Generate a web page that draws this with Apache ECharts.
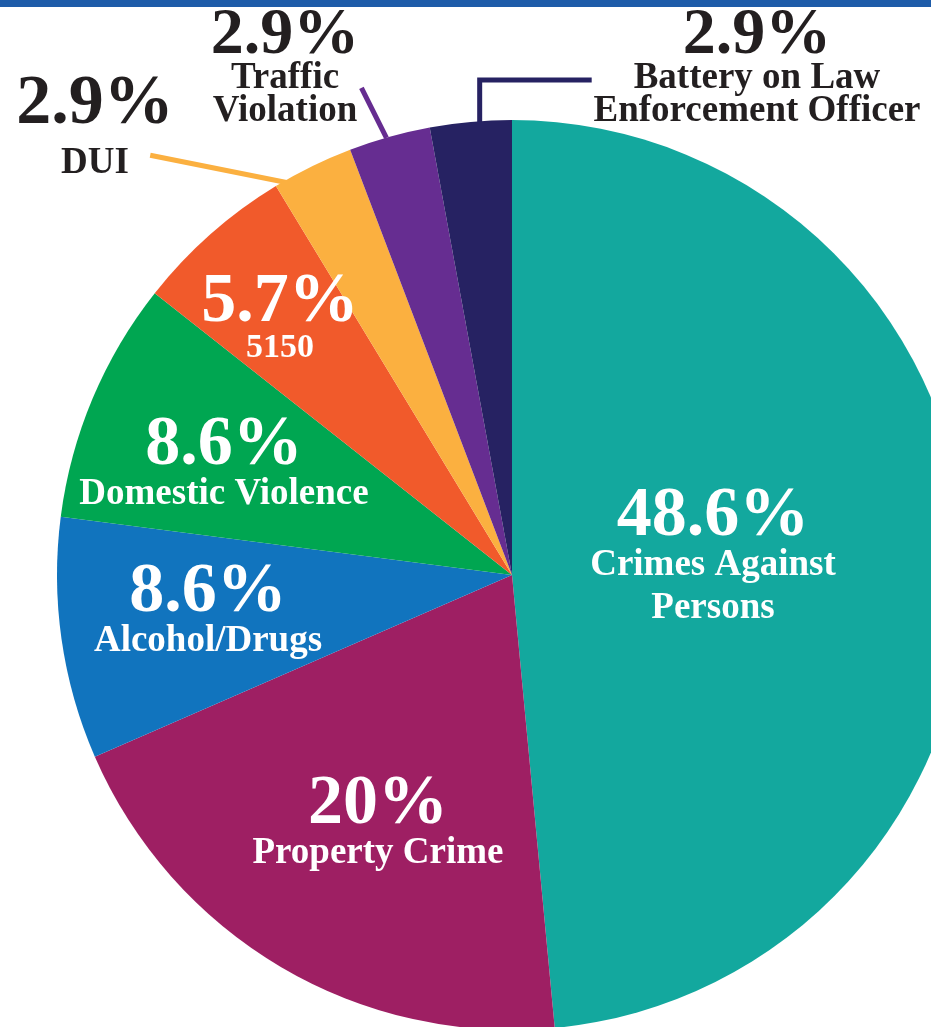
<!DOCTYPE html>
<html>
<head>
<meta charset="utf-8">
<script src="https://cdn.jsdelivr.net/npm/echarts@6/dist/echarts.min.js"></script>
<style>
  html, body { margin: 0; padding: 0; background: #fff; }
  #main { width: 931px; height: 1027px; }
</style>
</head>
<body>
<div id="main"></div>
<script>
// categories, clockwise from 12 o'clock ('\n' = line break in the label)
var categories = [
    'Crimes Against\nPersons',
    'Property Crime',
    'Alcohol/Drugs',
    'Domestic Violence',
    '5150',
    'DUI',
    'Traffic\nViolation',
    'Battery on Law\nEnforcement Officer'
];
var percents = [48.6, 20, 8.6, 8.6, 5.7, 2.9, 2.9, 2.9];
var colors = ['#13a89e', '#9e1f63', '#1174be', '#00a651', '#f15a2b', '#fbb040', '#662d91', '#262262'];
var outsideNames = ['DUI', 'Traffic\nViolation', 'Battery on Law\nEnforcement Officer'];

// label centres (px), rich style keys, and leader line bends (offsets from the slice edge anchor)
var labelCenters = [[713, 560], [378, 826], [208, 614], [224, 467], [280, 321], [95, 126], [285, 69], [757, 69]];
var labelStyles = [['p', 'n'], ['p', 'n'], ['p', 'n'], ['p', 'n'], ['p', 's'], ['po', 'n'], ['pt', 'nt'], ['pt', 'nt']];
var leaderBends = {
    5: [[-22, 17], [-162, -11]],
    6: [[-3, 1], [-28, -49]],
    7: [[9, 28], [9, -42], [121, -42]]
};

var myChart = echarts.init(document.getElementById('main'));

var pieData = percents.map(function (v, i) {
    var outside = outsideNames.indexOf(categories[i]) >= 0;
    return {
        value: v,
        name: categories[i],
        itemStyle: { color: colors[i] },
        label: {
            position: outside ? 'outside' : 'inside',
            color: outside ? '#231f20' : '#fff'
        },
        labelLine: { show: outside }
    };
});

var serif = "'Liberation Serif', serif";

var option = {
    backgroundColor: '#fff',
    animation: false,
    // 顶部蓝条
    graphic: [
        {
            type: 'rect',
            left: 0,
            top: 0,
            shape: { width: 931, height: 7 },
            style: { fill: '#1e5ca9' }
        }
    ],
    series: [
        {
            type: 'pie',
            center: [512, 575],
            radius: [0, 455],
            startAngle: 90,
            clockwise: true,
            avoidLabelOverlap: false,
            silent: true,
            emphasis: { disabled: true },
            data: pieData,
            label: {
                show: true,
                fontFamily: serif,
                formatter: function (p) {
                    var st = labelStyles[p.dataIndex];
                    var lines = p.name.split('\n').map(function (s) {
                        return '{' + st[1] + '|' + s + '}';
                    });
                    return '{' + st[0] + '|' + p.value + '%}\n' + lines.join('\n');
                },
                rich: {
                    p: { fontFamily: serif, fontWeight: 'bold', fontSize: 70, lineHeight: 54 },
                    po: { fontFamily: serif, fontWeight: 'bold', fontSize: 70, lineHeight: 74 },
                    n: { fontFamily: serif, fontWeight: 'bold', fontSize: 37, lineHeight: 43 },
                    pt: { fontFamily: serif, fontWeight: 'bold', fontSize: 66, lineHeight: 52 },
                    nt: { fontFamily: serif, fontWeight: 'bold', fontSize: 37, lineHeight: 33 },
                    s: { fontFamily: serif, fontWeight: 'bold', fontSize: 34, lineHeight: 37 }
                }
            },
            labelLine: {
                length: 20,
                length2: 20,
                lineStyle: { width: 5 }
            },
            labelLayout: function (params) {
                var i = params.dataIndex;
                var pos = labelCenters[i];
                var out = { x: pos[0], y: pos[1], align: 'center', verticalAlign: 'middle' };
                var pts = params.labelLinePoints;
                if (pts && leaderBends[i]) {
                    var a = pts[0];
                    out.labelLinePoints = leaderBends[i].map(function (d) {
                        return [a[0] + d[0], a[1] + d[1]];
                    });
                }
                return out;
            }
        }
    ]
};

myChart.setOption(option);
window.onresize = myChart.resize;
</script>
</body>
</html>
